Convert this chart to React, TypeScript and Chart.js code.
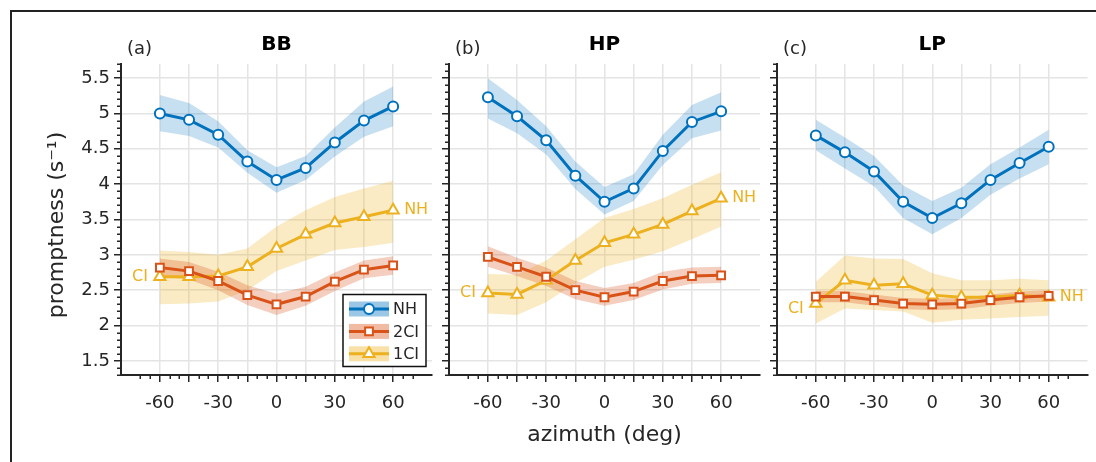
import React, { useEffect, useRef } from 'react';
import { Chart, registerables } from 'chart.js';

Chart.register(...registerables);

// ---------------- data ----------------
const azimuth = [-60, -45, -30, -15, 0, 15, 30, 45, 60];
const xTickValues = [-60, -45, -30, -15, 0, 15, 30, 45, 60];
const yTickValues = [1.5, 2, 2.5, 3, 3.5, 4, 4.5, 5, 5.5];
const panelTitles = ['BB', 'HP', 'LP'];
const panelLetters = ['(a)', '(b)', '(c)'];
const seriesNames = ['NH', '2CI', '1CI'];

// BB
const bbNH = [5.0, 4.91, 4.7, 4.32, 4.06, 4.23, 4.59, 4.9, 5.1];
const bbNHLo = [4.75, 4.68, 4.52, 4.16, 3.88, 4.06, 4.39, 4.67, 4.82];
const bbNHHi = [5.26, 5.15, 4.89, 4.48, 4.24, 4.4, 4.8, 5.17, 5.38];
const bb2CI = [2.82, 2.77, 2.63, 2.43, 2.3, 2.41, 2.62, 2.79, 2.85];
const bb2CILo = [2.69, 2.65, 2.5, 2.29, 2.15, 2.28, 2.49, 2.67, 2.72];
const bb2CIHi = [2.95, 2.9, 2.76, 2.57, 2.45, 2.55, 2.75, 2.92, 2.98];
const bb1CI = [2.69, 2.69, 2.7, 2.83, 3.09, 3.29, 3.45, 3.54, 3.63];
const bb1CILo = [2.3, 2.31, 2.34, 2.5, 2.77, 2.92, 3.07, 3.11, 3.17];
const bb1CIHi = [3.06, 3.04, 3.0, 3.09, 3.4, 3.63, 3.82, 3.94, 4.05];

// HP
const hpNH = [5.23, 4.96, 4.62, 4.12, 3.75, 3.94, 4.47, 4.88, 5.03];
const hpNHLo = [4.93, 4.72, 4.42, 3.93, 3.57, 3.76, 4.27, 4.65, 4.76];
const hpNHHi = [5.5, 5.19, 4.82, 4.32, 3.96, 4.14, 4.7, 5.12, 5.3];
const hp2CI = [2.97, 2.83, 2.69, 2.5, 2.4, 2.48, 2.63, 2.7, 2.71];
const hp2CILo = [2.83, 2.7, 2.56, 2.37, 2.28, 2.36, 2.51, 2.59, 2.6];
const hp2CIHi = [3.12, 2.96, 2.82, 2.63, 2.53, 2.6, 2.76, 2.82, 2.83];
const hp1CI = [2.46, 2.44, 2.64, 2.92, 3.17, 3.29, 3.43, 3.62, 3.8];
const hp1CILo = [2.17, 2.15, 2.33, 2.6, 2.83, 2.93, 3.05, 3.22, 3.4];
const hp1CIHi = [2.73, 2.72, 2.92, 3.22, 3.52, 3.65, 3.8, 3.99, 4.17];

// LP
const lpNH = [4.69, 4.45, 4.18, 3.75, 3.52, 3.73, 4.06, 4.3, 4.53];
const lpNHLo = [4.48, 4.22, 3.97, 3.52, 3.29, 3.52, 3.85, 4.08, 4.28];
const lpNHHi = [4.91, 4.66, 4.4, 3.98, 3.76, 3.95, 4.28, 4.52, 4.77];
const lp2CI = [2.41, 2.41, 2.36, 2.31, 2.3, 2.31, 2.36, 2.4, 2.42];
const lp2CILo = [2.33, 2.33, 2.28, 2.23, 2.22, 2.23, 2.28, 2.32, 2.34];
const lp2CIHi = [2.49, 2.49, 2.44, 2.39, 2.38, 2.39, 2.44, 2.48, 2.5];
const lp1CI = [2.31, 2.64, 2.57, 2.59, 2.43, 2.4, 2.4, 2.43, 2.4];
const lp1CILo = [2.03, 2.24, 2.22, 2.2, 2.04, 2.08, 2.1, 2.12, 2.14];
const lp1CIHi = [2.62, 2.99, 2.95, 2.94, 2.74, 2.64, 2.64, 2.66, 2.64];

// ---------------- styling ----------------
const FONT = '"DejaVu Sans", "Liberation Sans", sans-serif';
const AXIS = '#262626';
const GRID = '#e4e4e4';
const BLUE = '#0072BD';
const RED = '#D95319';
const YELLOW = '#EDB120';
const rgba = (hex: string, a: number) => {
  const n = parseInt(hex.slice(1), 16);
  return `rgba(${(n >> 16) & 255},${(n >> 8) & 255},${n & 255},${a})`;
};

const W = 1096;
const H = 462;
const PLOT_TOP = 64;
const PLOT_BOTTOM = 375;
const Y_AXIS_W = 40;
const X_AXIS_H = 40;

type Panel = {
  left: number;
  right: number;
  nh: number[]; nhLo: number[]; nhHi: number[];
  c2: number[]; c2Lo: number[]; c2Hi: number[];
  c1: number[]; c1Lo: number[]; c1Hi: number[];
};

const panels: Panel[] = [
  { left: 121, right: 432, nh: bbNH, nhLo: bbNHLo, nhHi: bbNHHi, c2: bb2CI, c2Lo: bb2CILo, c2Hi: bb2CIHi, c1: bb1CI, c1Lo: bb1CILo, c1Hi: bb1CIHi },
  { left: 449, right: 760, nh: hpNH, nhLo: hpNHLo, nhHi: hpNHHi, c2: hp2CI, c2Lo: hp2CILo, c2Hi: hp2CIHi, c1: hp1CI, c1Lo: hp1CILo, c1Hi: hp1CIHi },
  { left: 777, right: 1088, nh: lpNH, nhLo: lpNHLo, nhHi: lpNHHi, c2: lp2CI, c2Lo: lp2CILo, c2Hi: lp2CIHi, c1: lp1CI, c1Lo: lp1CILo, c1Hi: lp1CIHi },
];

const pts = (ys: number[]) => azimuth.map((x, i) => ({ x, y: ys[i] }));

function drawMarker(ctx: CanvasRenderingContext2D, style: string, x: number, y: number, r: number, color: string) {
  ctx.beginPath();
  if (style === 'circle') {
    ctx.arc(x, y, r, 0, Math.PI * 2);
  } else if (style === 'rect') {
    const s = Math.SQRT1_2 * r;
    ctx.rect(x - s, y - s, 2 * s, 2 * s);
  } else {
    const a = -Math.PI / 2;
    for (let k = 0; k < 3; k++) {
      const ang = a + (k * 2 * Math.PI) / 3;
      const px = x + Math.cos(ang) * r;
      const py = y + Math.sin(ang) * r;
      if (k === 0) ctx.moveTo(px, py);
      else ctx.lineTo(px, py);
    }
    ctx.closePath();
  }
  ctx.fillStyle = '#fff';
  ctx.fill();
  ctx.strokeStyle = color;
  ctx.lineWidth = 2;
  ctx.stroke();
}

function makeConfig(p: Panel, idx: number): any {
  const bandDs = (data: number[], color: string, fillTarget: number | false, order: number) => ({
    data: pts(data),
    borderWidth: 0,
    pointRadius: 0,
    borderColor: 'transparent',
    backgroundColor: color,
    fill: fillTarget === false ? false : { target: fillTarget },
    tension: 0,
    order,
  });
  const lineDs = (data: number[], color: string, style: string, radius: number, order: number) => ({
    data: pts(data),
    borderColor: color,
    borderWidth: 3,
    pointStyle: style,
    pointRadius: radius,
    pointBorderWidth: 2,
    pointBorderColor: color,
    pointBackgroundColor: '#ffffff',
    fill: false,
    tension: 0,
    order,
  });

  const datasets = [
    bandDs(p.c1Lo, rgba(YELLOW, 0.26), false, 30), // 0
    bandDs(p.c1Hi, rgba(YELLOW, 0.26), 0, 30), // 1
    bandDs(p.c2Lo, rgba(RED, 0.28), false, 20), // 2
    bandDs(p.c2Hi, rgba(RED, 0.28), 2, 20), // 3
    bandDs(p.nhLo, rgba(BLUE, 0.22), false, 10), // 4
    bandDs(p.nhHi, rgba(BLUE, 0.22), 4, 10), // 5
    lineDs(p.c1, YELLOW, 'triangle', 6.5, 3),
    lineDs(p.c2, RED, 'rect', 5.5, 2),
    lineDs(p.nh, BLUE, 'circle', 5, 1),
  ];

  const decor = {
    id: 'decor' + idx,
    afterDraw(chart: any) {
      const { ctx, chartArea } = chart;
      const xs = chart.scales.x;
      const ys = chart.scales.y;
      ctx.save();
      // minor ticks
      ctx.strokeStyle = AXIS;
      ctx.lineWidth = 1.5;
      ctx.beginPath();
      for (let v = -70; v <= 70; v += 5) {
        if (v % 15 === 0) continue;
        const px = Math.round(xs.getPixelForValue(v)) + 0.25;
        ctx.moveTo(px, chartArea.bottom);
        ctx.lineTo(px, chartArea.bottom + 4);
      }
      for (let k = 13; k <= 57; k++) {
        if (k % 5 === 0) continue;
        const py = Math.round(ys.getPixelForValue(k / 10)) + 0.25;
        ctx.moveTo(chartArea.left - 4, py);
        ctx.lineTo(chartArea.left, py);
      }
      ctx.stroke();

      // panel title and letter
      ctx.fillStyle = '#000';
      ctx.font = `bold 20px ${FONT}`;
      ctx.textAlign = 'center';
      ctx.textBaseline = 'alphabetic';
      ctx.fillText(panelTitles[idx], xs.getPixelForValue(0), 50);
      ctx.font = `18px ${FONT}`;
      ctx.fillStyle = AXIS;
      ctx.textAlign = 'left';
      ctx.fillText(panelLetters[idx], chartArea.left + 6, 54);

      // CI / NH annotations of the 1CI curve
      ctx.fillStyle = YELLOW;
      ctx.font = `16px ${FONT}`;
      ctx.textBaseline = 'middle';
      ctx.textAlign = 'right';
      ctx.fillText('CI', xs.getPixelForValue(azimuth[0]) - 12, ys.getPixelForValue(p.c1[0]) + (idx === 2 ? 5 : 0));
      ctx.textAlign = 'left';
      ctx.fillText('NH', xs.getPixelForValue(azimuth[azimuth.length - 1]) + 11, ys.getPixelForValue(p.c1[p.c1.length - 1]));

      if (idx === 0) {
        // figure frame (left and top edges)
        ctx.strokeStyle = '#222';
        ctx.lineWidth = 2;
        ctx.beginPath();
        ctx.moveTo(11, H);
        ctx.lineTo(11, 11);
        ctx.lineTo(W, 11);
        ctx.stroke();

        // y axis title
        ctx.save();
        ctx.translate(63, 225);
        ctx.rotate(-Math.PI / 2);
        ctx.fillStyle = AXIS;
        ctx.font = `22px ${FONT}`;
        ctx.textAlign = 'center';
        ctx.textBaseline = 'alphabetic';
        ctx.fillText('promptness (s⁻¹)', 0, 0);
        ctx.restore();

        // legend
        const bx = chartArea.right - 6;
        const by = chartArea.bottom - 8.5;
        const lw = 83, lh = 72;
        const lx = bx - lw, ly = by - lh;
        ctx.fillStyle = '#fff';
        ctx.fillRect(lx, ly, lw, lh);
        const colors = [BLUE, RED, YELLOW];
        const styles = ['circle', 'rect', 'triangle'];
        const radii = [5, 5.5, 6.5];
        for (let i = 0; i < 3; i++) {
          const cy = ly + 14.5 + i * 22.4;
          const sx = lx + 6;
          const sw = 40;
          ctx.fillStyle = rgba(colors[i], 0.4);
          ctx.fillRect(sx, cy - 7.5, sw, 15);
          ctx.strokeStyle = colors[i];
          ctx.lineWidth = 3;
          ctx.beginPath();
          ctx.moveTo(sx, cy);
          ctx.lineTo(sx + sw, cy);
          ctx.stroke();
          drawMarker(ctx, styles[i], sx + sw / 2, cy, radii[i], colors[i]);
          ctx.fillStyle = AXIS;
          ctx.font = `16px ${FONT}`;
          ctx.textAlign = 'left';
          ctx.textBaseline = 'middle';
          ctx.fillText(seriesNames[i], sx + sw + 4, cy + 1);
        }
        ctx.strokeStyle = '#111';
        ctx.lineWidth = 1.5;
        ctx.strokeRect(lx, ly, lw, lh);
      }

      if (idx === 1) {
        ctx.fillStyle = AXIS;
        ctx.font = `22px ${FONT}`;
        ctx.textAlign = 'center';
        ctx.textBaseline = 'alphabetic';
        ctx.fillText('azimuth (deg)', xs.getPixelForValue(0), 441);
      }
      ctx.restore();
    },
  };

  return {
    type: 'line',
    data: { datasets },
    plugins: [decor],
    options: {
      animation: false,
      responsive: false,
      devicePixelRatio: 1,
      events: [],
      layout: {
        padding: {
          left: p.left - Y_AXIS_W,
          right: W - p.right,
          top: PLOT_TOP,
          bottom: H - PLOT_BOTTOM - X_AXIS_H,
        },
      },
      plugins: {
        legend: { display: false },
        tooltip: { enabled: false },
        title: { display: false },
        filler: { drawTime: 'beforeDatasetsDraw', propagate: false },
      },
      scales: {
        x: {
          type: 'linear',
          min: -80,
          max: 80,
          afterBuildTicks: (axis: any) => {
            axis.ticks = xTickValues.map((v) => ({ value: v }));
          },
          afterFit: (axis: any) => {
            axis.height = X_AXIS_H;
          },
          ticks: {
            autoSkip: false,
            maxRotation: 0,
            padding: 11,
            color: AXIS,
            font: { family: FONT, size: 18 },
            callback: (v: number) => (v % 30 === 0 ? String(v) : ''),
          },
          grid: {
            color: GRID,
            lineWidth: 1.5,
            tickColor: AXIS,
            tickLength: 7,
            tickWidth: 1.5,
          },
          border: { color: AXIS, width: 2 },
        },
        y: {
          type: 'linear',
          min: 1.3,
          max: 5.7,
          afterBuildTicks: (axis: any) => {
            axis.ticks = yTickValues.map((v) => ({ value: v }));
          },
          afterFit: (axis: any) => {
            axis.width = Y_AXIS_W;
          },
          ticks: {
            autoSkip: false,
            padding: 4,
            color: AXIS,
            font: { family: FONT, size: 18 },
            callback: (v: number) => (idx === 0 ? String(v) : ''),
          },
          grid: {
            color: GRID,
            lineWidth: 1.5,
            tickColor: AXIS,
            tickLength: 7,
            tickWidth: 1.5,
          },
          border: { color: AXIS, width: 2 },
        },
      },
    },
  };
}

export default function App() {
  const r0 = useRef<HTMLCanvasElement>(null);
  const r1 = useRef<HTMLCanvasElement>(null);
  const r2 = useRef<HTMLCanvasElement>(null);

  useEffect(() => {
    const refs = [r0, r1, r2];
    const charts = refs.map((r, i) => new Chart(r.current as HTMLCanvasElement, makeConfig(panels[i], i)));
    return () => charts.forEach((c) => c.destroy());
  }, []);

  const cs: React.CSSProperties = { position: 'absolute', left: 0, top: 0, width: W, height: H };
  return (
    <div style={{ position: 'absolute', left: 0, top: 0, width: W, height: H, background: '#fff' }}>
      <canvas ref={r0} width={W} height={H} style={cs} />
      <canvas ref={r1} width={W} height={H} style={cs} />
      <canvas ref={r2} width={W} height={H} style={cs} />
    </div>
  );
}
